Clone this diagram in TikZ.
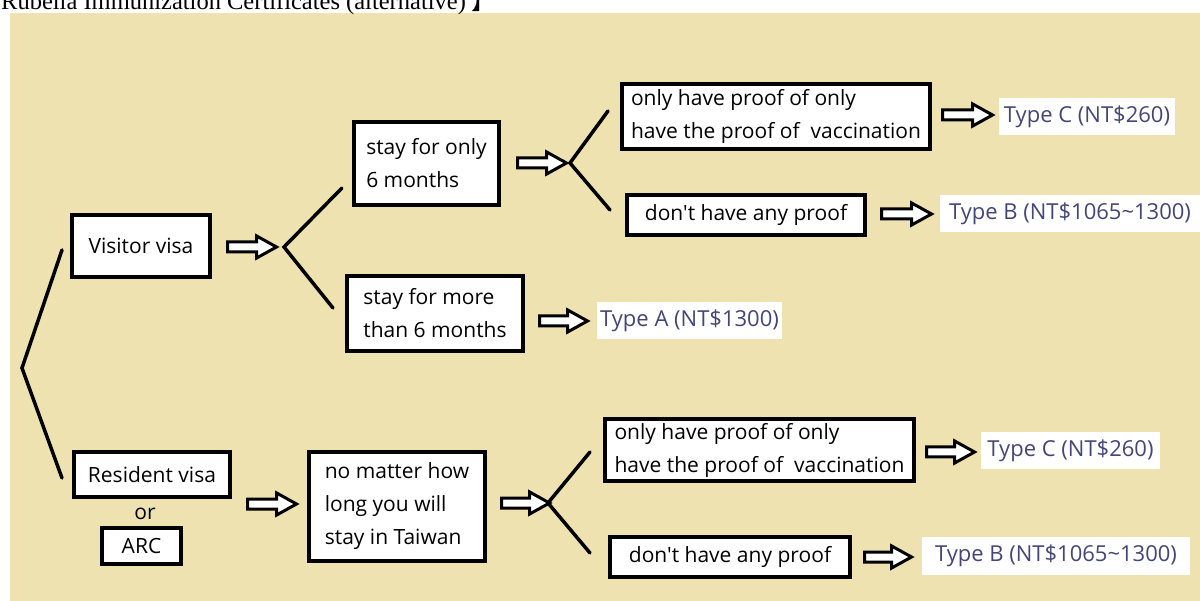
\documentclass[tikz,border=0pt]{standalone}
\usepackage{fontspec}
\usetikzlibrary{shapes.arrows}
\newfontfamily\bodyfont{Open Sans}
\newfontfamily\titlefont{Liberation Serif}
\newfontfamily\cjkfont{Noto Sans CJK SC}
\definecolor{beige}{RGB}{238,226,177}
\definecolor{typeblue}{RGB}{68,70,122}
\tikzset{
  box/.style={draw=black, line width=4pt, fill=white, inner sep=0pt, align=left, font=\bodyfont\fontsize{21}{33}\selectfont},
  cbox/.style={box, align=center},
  price/.style={fill=white, inner sep=0pt, text=typeblue, font=\bodyfont\fontsize{22}{26}\selectfont},
  barrow/.style={single arrow, draw=black, fill=white, line width=3pt, inner sep=0pt, inner ysep=3.5pt, single arrow head extend=6pt, single arrow tip angle=58, minimum width=19pt},
  brk/.style={line width=3.5pt, line cap=round, line join=miter},
}
\begin{document}
\begin{tikzpicture}[x=1pt, y=-1pt]
\useasboundingbox (0,0) rectangle (1200,601);
\clip (0,0) rectangle (1200,601);
\fill[white] (0,0) rectangle (1200,601);
\fill[beige] (10,13) rectangle (1200,601);
% title (cut off at the top, as in the source)
\node[anchor=base west, inner sep=0pt, font=\titlefont\fontsize{24.5}{24.5}\selectfont] (title) at (1,10) {Rubella Immunization Certificates (alternative) {\cjkfont 】}};

% boxes
\node[cbox, minimum width=138pt, minimum height=62pt] (vis) at (141,246) {Visitor visa};
\node[cbox, minimum width=156pt, minimum height=45pt] (res) at (152,474.5) {Resident visa};
\node[inner sep=0pt, font=\bodyfont\fontsize{21}{25}\selectfont] (or) at (145,514) {or};
\node[cbox, minimum width=79pt, minimum height=36pt] (arc) at (141.5,546) {ARC};
\node[box, minimum width=145pt, minimum height=83pt] (stay1) at (426.5,163.5) {stay for only\\6 months};
\node[box, minimum width=176pt, minimum height=75pt] (stay2) at (435,313.5) {stay for more\\than 6 months};
\node[box, minimum width=176pt, minimum height=109pt] (nm) at (397,506.5) {no matter how\\long you will\\stay in Taiwan};
\node[box, minimum width=308pt, minimum height=65pt] (up1) at (776,116.5) {only have proof of only\\have the proof of \ vaccination};
\node[box, minimum width=238pt, minimum height=40pt] (dn1) at (746,215) {don't have any proof};
\node[box, minimum width=309pt, minimum height=62pt] (up2) at (759.5,450) {only have proof of only\\have the proof of \ vaccination};
\node[box, minimum width=240pt, minimum height=40pt] (dn2) at (730,557) {don't have any proof};

% prices
\node[price, minimum width=176pt, minimum height=37pt] (tc1) at (1087,116.5) {Type C (NT\$260)};
\node[price, minimum width=260pt, minimum height=37pt] (tb1) at (1070,213.5) {Type B (NT\$1065\textasciitilde1300)};
\node[price, minimum width=185pt, minimum height=37pt] (ta) at (689.5,320.5) {Type A (NT\$1300)};
\node[price, minimum width=179pt, minimum height=37pt] (tc2) at (1070.5,450.5) {Type C (NT\$260)};
\node[price, minimum width=268pt, minimum height=38pt] (tb2) at (1056,556) {Type B (NT\$1065\textasciitilde1300)};

% block arrows
\node[barrow, minimum height=49pt] (a1) at (247.5,247) {};
\node[barrow, minimum height=49pt] (a2) at (537.5,163) {};
\node[barrow, minimum height=48pt] (a3) at (559,321) {};
\node[barrow, minimum height=50pt] (a4) at (963,115) {};
\node[barrow, minimum height=50pt] (a5) at (902,214) {};
\node[barrow, minimum height=49pt] (a6) at (267.5,504) {};
\node[barrow, minimum height=48pt] (a7) at (521,503) {};
\node[barrow, minimum height=48pt] (a8) at (946,452) {};
\node[barrow, minimum height=47pt] (a9) at (883.5,557) {};

% bracket points
\coordinate (b0t) at (62,250);
\coordinate (b0v) at (22,368);
\coordinate (b0b) at (62,478);
\coordinate (b1t) at (342,188);
\coordinate (b1v) at (284,247);
\coordinate (b1b) at (333,308);
\coordinate (b2t) at (608,111);
\coordinate (b2v) at (570,163);
\coordinate (b2b) at (610,210);
\coordinate (b3t) at (590,452);
\coordinate (b3v) at (548,503);
\coordinate (b3b) at (590,553);
\draw[brk] (b0t) -- (b0v) -- (b0b);
\draw[brk] (b1t) -- (b1v) -- (b1b);
\draw[brk] (b2t) -- (b2v) -- (b2b);
\draw[brk] (b3t) -- (b3v) -- (b3b);
\end{tikzpicture}
\end{document}
